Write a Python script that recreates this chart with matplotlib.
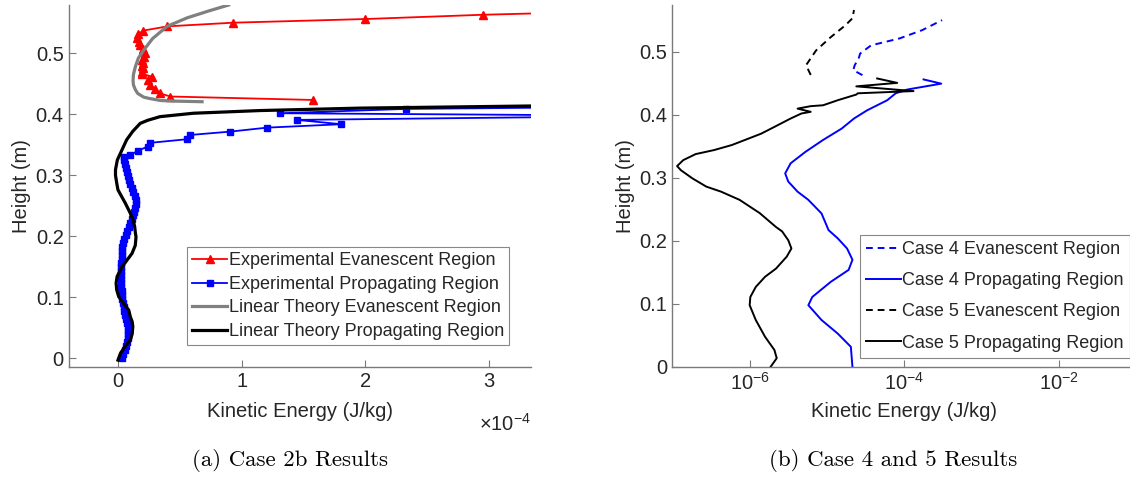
import math
import matplotlib
matplotlib.use("Agg")
import matplotlib.pyplot as plt
from matplotlib.ticker import FixedLocator, FuncFormatter, NullLocator, NullFormatter

plt.rcParams['font.family'] = ['Liberation Sans', 'DejaVu Sans']
plt.rcParams['mathtext.fontset'] = 'custom'
plt.rcParams['mathtext.rm'] = 'Liberation Sans'
plt.rcParams['mathtext.it'] = 'Liberation Sans:italic'
plt.rcParams['mathtext.bf'] = 'Liberation Sans:bold'

# ---------------- Panel (a): Case 2b (KE in units of 1e-4 J/kg) ----------------
exp_evan_ke = [1.574, 0.424, 0.343, 0.302, 0.262, 0.240, 0.276, 0.195, 0.195, 0.200, 0.195,
               0.200, 0.195, 0.210, 0.218, 0.200, 0.182, 0.168, 0.155, 0.163, 0.203, 0.400,
               0.930, 2.000, 2.950, 3.800]
exp_evan_h = [0.4234, 0.429, 0.434, 0.441, 0.448, 0.456, 0.4616, 0.466, 0.470, 0.475, 0.479,
              0.484, 0.489, 0.494, 0.500, 0.507, 0.513, 0.519, 0.525, 0.531, 0.537, 0.544,
              0.550, 0.556, 0.563, 0.5675]

exp_prop_ke = [0.030, 0.040, 0.055, 0.065, 0.072, 0.078, 0.082, 0.085, 0.082, 0.075, 0.065,
               0.058, 0.052, 0.045, 0.038, 0.034, 0.031, 0.030, 0.028, 0.027, 0.027, 0.027,
               0.027, 0.027, 0.028, 0.029, 0.030, 0.032, 0.036, 0.042, 0.050, 0.062, 0.075,
               0.088, 0.100, 0.112, 0.122, 0.132, 0.140, 0.145, 0.145, 0.135, 0.120, 0.110,
               0.100, 0.090, 0.082, 0.075, 0.068, 0.060, 0.052, 0.046,
               0.100, 0.160, 0.240, 0.256, 0.558, 0.585, 0.909, 1.205, 1.806, 1.448,
               3.600, 3.600, 1.310, 2.330, 5.000]
exp_prop_h = [0.000, 0.0065, 0.013, 0.0195, 0.026, 0.0325, 0.039, 0.0455, 0.052, 0.0585, 0.065,
              0.0715, 0.078, 0.0845, 0.091, 0.0975, 0.104, 0.1105, 0.117, 0.1235, 0.130, 0.1365,
              0.143, 0.1495, 0.156, 0.1625, 0.169, 0.1755, 0.182, 0.1885, 0.195, 0.2015, 0.208,
              0.2145, 0.221, 0.2275, 0.234, 0.2405, 0.247, 0.2535, 0.260, 0.2665, 0.273, 0.2795,
              0.286, 0.2925, 0.299, 0.3055, 0.312, 0.3185, 0.325, 0.3305,
              0.333, 0.340, 0.347, 0.353, 0.359, 0.366, 0.3715, 0.378, 0.3836, 0.3907,
              0.3955, 0.3985, 0.4016, 0.4087, 0.4135]

lin_evan_ke = [0.680, 0.450, 0.343, 0.250, 0.208, 0.160, 0.141, 0.125, 0.122, 0.125, 0.141,
               0.165, 0.208, 0.280, 0.397, 0.560, 0.730, 0.895]
lin_evan_h = [0.4205, 0.4215, 0.4225, 0.426, 0.428, 0.434, 0.440, 0.448, 0.455, 0.465, 0.478,
              0.492, 0.505, 0.524, 0.544, 0.558, 0.569, 0.579]

lin_prop_ke = [0.000, 0.020, 0.060, 0.100, 0.115, 0.120, 0.115, 0.100, 0.087, 0.045, 0.006,
               -0.010, -0.015, -0.007, 0.033, 0.070, 0.114, 0.140, 0.146, 0.141, 0.135, 0.122,
               0.099, 0.060, 0.030, 0.000, -0.010, -0.020, -0.020, -0.005, 0.020, 0.070,
               0.120, 0.180, 0.240, 0.340, 0.610, 1.150, 1.960, 3.340, 4.000]
lin_prop_h = [-0.003, 0.008, 0.020, 0.030, 0.040, 0.052, 0.060, 0.068, 0.079, 0.090, 0.101,
              0.112, 0.123, 0.134, 0.150, 0.160, 0.172, 0.185, 0.199, 0.205, 0.216, 0.227,
              0.238, 0.254, 0.265, 0.276, 0.287, 0.300, 0.309, 0.325, 0.336, 0.358,
              0.372, 0.385, 0.390, 0.396, 0.4016, 0.406, 0.410, 0.4135, 0.415]

# ---------------- Panel (b): Cases 4 and 5 (KE in J/kg) ----------------
c4_prop_ke = [2.14e-5, 2.04e-5, 1.38e-5, 8.51e-6, 5.75e-6, 6.46e-6, 1.12e-5, 1.91e-5, 2.14e-5,
              1.82e-5, 1.38e-5, 1.05e-5, 8.51e-6, 5.75e-6, 4.17e-6, 3.16e-6, 2.88e-6, 3.39e-6,
              5.25e-6, 8.91e-6, 1.55e-5, 2.24e-5, 3.31e-5, 6.03e-5, 7.76e-5, 1.10e-4, 3.02e-4,
              1.78e-4]
c4_prop_h = [0.000, 0.032, 0.053, 0.0745, 0.098, 0.111, 0.135, 0.154, 0.170,
             0.188, 0.204, 0.217, 0.2435, 0.265, 0.278, 0.294, 0.307, 0.323,
             0.341, 0.360, 0.378, 0.394, 0.407, 0.423, 0.434, 0.440, 0.4493, 0.456]

c4_evan_ke = [2.88e-5, 2.19e-5, 2.29e-5, 2.57e-5, 2.69e-5, 3.72e-5, 8.71e-5, 1.70e-4, 3.09e-4]
c4_evan_h = [0.4628, 0.4707, 0.4786, 0.489, 0.497, 0.510, 0.521, 0.534, 0.550]

c5_prop_ke = [1.86e-6, 2.24e-6, 2.09e-6, 1.58e-6, 1.20e-6, 1.00e-6, 1.02e-6, 1.20e-6, 1.58e-6,
              2.19e-6, 3.02e-6, 3.47e-6, 3.16e-6, 2.63e-6, 2.19e-6, 1.35e-6, 7.41e-7, 4.27e-7,
              2.75e-7, 1.82e-7, 1.29e-7, 1.15e-7, 1.38e-7, 2.00e-7, 3.47e-7, 5.89e-7, 9.12e-7,
              1.41e-6, 2.19e-6, 3.39e-6, 4.68e-6, 6.17e-6, 4.17e-6, 6.17e-6, 8.91e-6, 1.38e-5,
              2.40e-5, 2.51e-5, 1.32e-4, 2.40e-5, 8.13e-5, 4.47e-5]
c5_prop_h = [0.000, 0.014, 0.027, 0.048, 0.0745, 0.098, 0.111, 0.127, 0.143,
             0.156, 0.175, 0.188, 0.201, 0.215, 0.222, 0.244, 0.265, 0.278,
             0.286, 0.299, 0.312, 0.3186, 0.328, 0.3376, 0.344, 0.352, 0.361,
             0.370, 0.382, 0.394, 0.402, 0.4046, 0.4097, 0.4136, 0.415, 0.423,
             0.432, 0.434, 0.4375, 0.445, 0.4505, 0.4575]

c5_evan_ke = [6.17e-6, 5.37e-6, 7.24e-6, 1.12e-5, 1.74e-5, 2.14e-5, 2.24e-5]
c5_evan_h = [0.463, 0.4786, 0.502, 0.523, 0.542, 0.553, 0.566]

yticks = [0, 0.1, 0.2, 0.3, 0.4, 0.5]
xticks_a = [0, 1, 2, 3]
xticks_b = [1e-6, 1e-4, 1e-2]

# ---------------- Figure ----------------
W, H = 1130, 479
fig = plt.figure(figsize=(W / 100, H / 100), dpi=100)

def fx(px):
    return px / W

def fy(py):
    return 1 - py / H

axA = fig.add_axes([fx(68.5), fy(367.3), fx(531 - 68.5), (367.3 - 5) / H])
axB = fig.add_axes([fx(672.4), fy(367), fx(1136 - 672.4), (367 - 5) / H])

spine_col = '#7a7a7a'
text_col = '#262626'
for ax in (axA, axB):
    for s in ('top', 'right'):
        ax.spines[s].set_visible(False)
    for s in ('left', 'bottom'):
        ax.spines[s].set_color(spine_col)
        ax.spines[s].set_linewidth(1.0)
    ax.tick_params(direction='in', length=5, width=0.8, colors=spine_col,
                   labelcolor=text_col, labelsize=14.5)
    ax.set_yticks(yticks)
    ax.yaxis.set_major_formatter(FuncFormatter(lambda v, p: '%g' % v))
    ax.set_ylabel('Height (m)', fontsize=14.5, color=text_col)
    ax.set_xlabel('Kinetic Energy (J/kg)', fontsize=14.5, color=text_col)

# Panel (a)
axA.plot(exp_evan_ke, exp_evan_h, color='#ff0000', lw=1.3, marker='^', ms=5.5,
         label='Experimental Evanescent Region')
axA.plot(exp_prop_ke, exp_prop_h, color='#0000ff', lw=1.3, marker='s', ms=4.5,
         label='Experimental Propagating Region')
axA.plot(lin_evan_ke, lin_evan_h, color='#808080', lw=2.3, label='Linear Theory Evanescent Region')
axA.plot(lin_prop_ke, lin_prop_h, color='black', lw=2.3, label='Linear Theory Propagating Region')
axA.set_xlim(-0.40, 3.34)
axA.set_ylim(-0.0148, 0.579)
axA.set_xticks(xticks_a)
axA.xaxis.set_major_formatter(FuncFormatter(lambda v, p: '%g' % v))
axA.yaxis.labelpad = 3
axA.xaxis.labelpad = 8
axA.text(1.0, -0.125, r'$\times10^{-4}$', transform=axA.transAxes, ha='right', va='top',
         fontsize=14.5, color=text_col)
legA = axA.legend(loc='upper left', bbox_to_anchor=(fx(187), fy(247)),
                  bbox_transform=fig.transFigure, fontsize=13, frameon=True, fancybox=False,
                  framealpha=1, edgecolor='#888888', handlelength=1.9, handletextpad=0.1,
                  labelspacing=0.36, borderpad=0.3, borderaxespad=0)
legA.get_frame().set_linewidth(0.8)
for t in legA.get_texts():
    t.set_color(text_col)

# Panel (b)
axB.set_xscale('log')
axB.plot(c4_evan_ke, c4_evan_h, color='#0000ff', lw=1.4, ls=(0, (3.5, 2.5)), label='Case 4 Evanescent Region')
axB.plot(c4_prop_ke, c4_prop_h, color='#0000ff', lw=1.4, label='Case 4 Propagating Region')
axB.plot(c5_evan_ke, c5_evan_h, color='black', lw=1.4, ls=(0, (3.5, 2.5)), label='Case 5 Evanescent Region')
axB.plot(c5_prop_ke, c5_prop_h, color='black', lw=1.4, label='Case 5 Propagating Region')
axB.set_xlim(1e-7, 1e-1)
axB.set_ylim(0, 0.574)
axB.xaxis.set_major_locator(FixedLocator(xticks_b))
axB.xaxis.set_minor_locator(NullLocator())
axB.xaxis.set_minor_formatter(NullFormatter())
axB.xaxis.set_major_formatter(FuncFormatter(lambda v, p: r'$10^{%d}$' % round(math.log10(v))))
axB.yaxis.labelpad = 3
axB.xaxis.labelpad = 6
legB = axB.legend(loc='upper left', bbox_to_anchor=(fx(860), fy(235)),
                  bbox_transform=fig.transFigure, fontsize=13, frameon=True, fancybox=False,
                  framealpha=1, edgecolor='#888888', handlelength=1.9, handletextpad=0.1,
                  labelspacing=0.78, borderpad=0.35, borderaxespad=0)
legB.get_frame().set_linewidth(0.8)
for t in legB.get_texts():
    t.set_color(text_col)

# Captions
fig.text(fx(290), fy(460), '(a) Case 2b Results', ha='center', va='center',
         fontsize=16.5, family=['cmr10', 'DejaVu Serif'], color='black')
fig.text(fx(893), fy(460), '(b) Case 4 and 5 Results', ha='center', va='center',
         fontsize=16.5, family=['cmr10', 'DejaVu Serif'], color='black')

fig.savefig('out.png', dpi=100)
